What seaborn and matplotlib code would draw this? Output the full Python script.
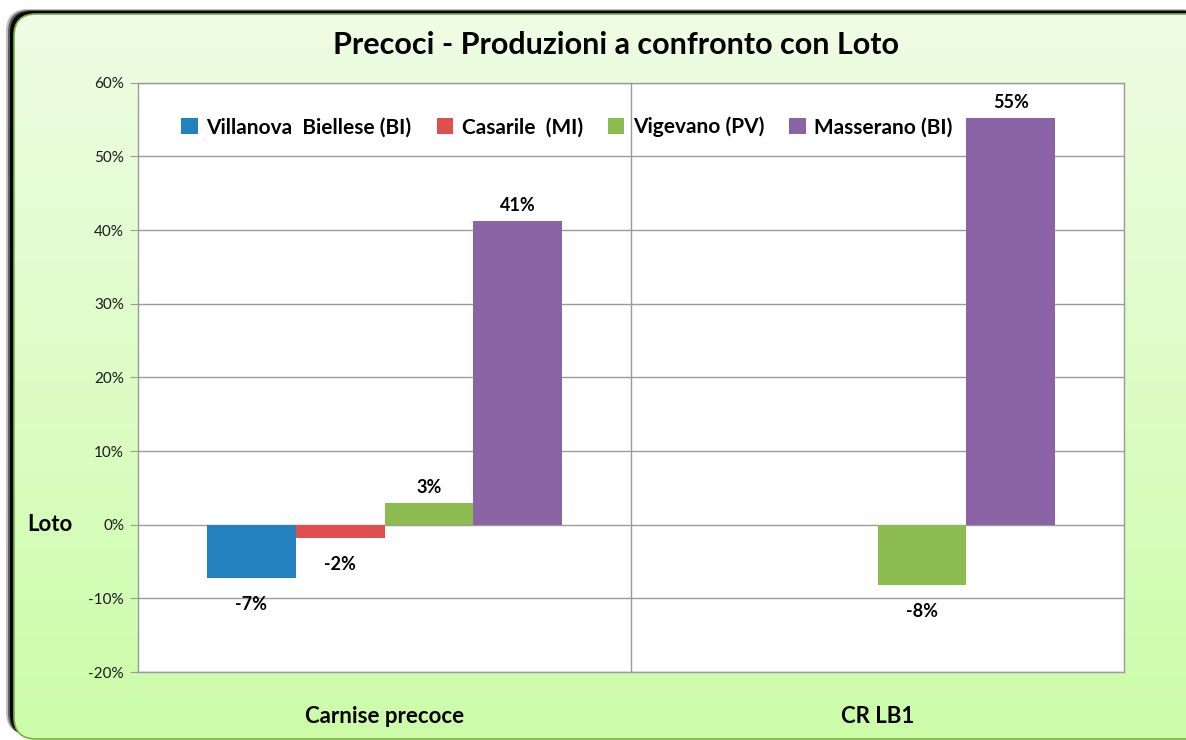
import numpy as np
import pandas as pd
import seaborn as sns
import matplotlib.pyplot as plt
from matplotlib.patches import FancyBboxPatch
from matplotlib.ticker import PercentFormatter

categories = ["Carnise precoce", "CR LB1"]
sites = ["Villanova  Biellese (BI)", "Casarile  (MI)", "Vigevano (PV)", "Masserano (BI)"]
villanova = [-7.3, None]
casarile = [-1.8, None]
vigevano = [3.0, -8.2]
masserano = [41.2, 55.2]
colors = ["#2381C0", "#DE4F4E", "#8CBB50", "#8B64A5"]

rows = []
for site, vals in zip(sites, [villanova, casarile, vigevano, masserano]):
    for cat, v in zip(categories, vals):
        if v is not None:
            rows.append({"category": cat, "site": site, "value": v})
df = pd.DataFrame(rows)

sns.set_style("white")
plt.rcParams["font.family"] = ["Lato", "DejaVu Sans"]
plt.rcParams["text.color"] = "black"
plt.rcParams["axes.unicode_minus"] = False

W, H = 1186, 740
fig = plt.figure(figsize=(W / 100, H / 100), dpi=100)
fig.patch.set_facecolor("white")

# background frame with green gradient and dark shadow on the top/left
bg = fig.add_axes([0, 0, 1, 1], zorder=-1)
bg.set_xlim(0, W)
bg.set_ylim(0, H)
bg.axis("off")
box_x, box_y, box_w, box_h = 14, 1, W + 12, 725
for dx, dy, a in [(-8, 5, 0.25), (-6, 4, 0.5), (-4, 3, 0.95)]:
    bg.add_patch(FancyBboxPatch((box_x + dx, box_y + dy), box_w, box_h,
                                boxstyle="round,pad=0,rounding_size=22",
                                facecolor="black", edgecolor="none", alpha=a, zorder=0))
frame = FancyBboxPatch((box_x, box_y), box_w, box_h, boxstyle="round,pad=0,rounding_size=22",
                       facecolor="none", edgecolor="#78B040", linewidth=1.2, zorder=3)
grad = np.linspace(0, 1, 256).reshape(-1, 1)
top = np.array([0.94, 0.99, 0.90])
bot = np.array([0.80, 0.99, 0.66])
img = bot + (top - bot) * grad[..., None]
im = bg.imshow(img, extent=(0, W, 0, H), origin="lower", aspect="auto", zorder=1)
bg.add_patch(frame)
im.set_clip_path(frame)

ax = fig.add_axes([138 / W, 1 - 672 / H, 986 / W, 589.3 / H])
sns.barplot(data=df, x="category", y="value", hue="site", order=categories,
            hue_order=sites, palette=colors, width=0.722, saturation=1, ax=ax,
            errorbar=None, linewidth=0)

ax.set_facecolor("white")
ax.set_xlim(-0.5, 1.5)
ax.set_ylim(-20, 60)
ax.set_yticks(range(-20, 61, 10))
ax.yaxis.set_major_formatter(PercentFormatter(decimals=0))
ax.grid(axis="y", color="#9A9A9A", linewidth=1)
ax.axvline(0.5, color="#9A9A9A", linewidth=1, zorder=0)
ax.set_axisbelow(True)
for s in ax.spines.values():
    s.set_color("#9A9A9A")
    s.set_linewidth(1)
ax.tick_params(axis="y", left=True, length=6, color="#9A9A9A", labelsize=11, pad=4,
               labelcolor="#1A1A1A")
ax.tick_params(axis="x", bottom=False, labelsize=16, pad=21, labelcolor="black")
for lbl in ax.get_xticklabels():
    lbl.set_fontweight("bold")
ax.set_xlabel("")
ax.set_ylabel("")
ax.text(-0.089, 0, "Loto", transform=ax.get_yaxis_transform(), ha="center", va="center",
        fontsize=16, fontweight="bold")

for cont in ax.containers:
    for bar in cont:
        h = bar.get_height()
        if np.isnan(h):
            continue
        x = bar.get_x() + bar.get_width() / 2
        off = 11 if h >= 0 else -19
        ax.annotate(f"{h:.0f}%", (x, h), xytext=(0, off), textcoords="offset points",
                    ha="center", va="center", fontsize=13, fontweight="bold")

handles, labels = ax.get_legend_handles_labels()
ax.legend(handles, labels, ncol=4, loc="center", bbox_to_anchor=(0.435, 0.925),
          frameon=False, handlelength=0.8, handleheight=0.8, handletextpad=0.4,
          columnspacing=1.2, prop={"weight": "bold", "size": 15})

fig.text(616 / W, 1 - 45 / H, "Precoci - Produzioni a confronto con Loto", ha="center",
         va="center", fontsize=22, fontweight="bold")

fig.savefig("out.png", dpi=100)
